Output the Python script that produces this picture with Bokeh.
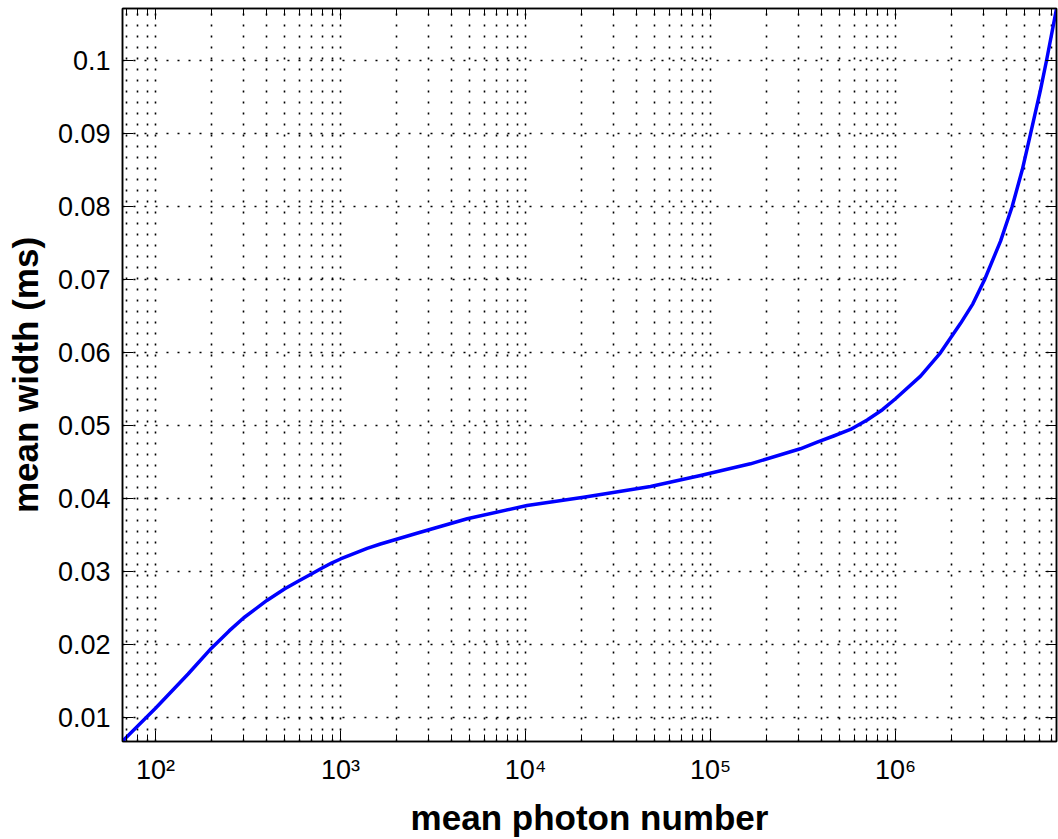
from bokeh.plotting import figure
from bokeh.models import Range1d, LogAxis, LinearAxis, FixedTicker, CustomJSTickFormatter
from bokeh.embed import file_html
from bokeh.resources import INLINE

# ---- data ----
photon_number = [66.3, 100, 150, 200, 250, 300, 400, 500, 600, 700, 800, 900, 1000,
                 1393, 1644, 2700, 4840, 10200, 20600, 47400, 88300, 164500, 306000,
                 377500, 463000, 571000, 703000, 850000, 1.0e6, 1.366e6, 1.75e6, 2.244e6,
                 2.62e6, 3.03e6, 3.698e6, 4.27e6, 4.85e6, 5.37e6, 6.08e6, 6.55e6, 7.42e6]
mean_width_ms = [0.0068, 0.0113, 0.0160, 0.0195, 0.0219, 0.0237, 0.02607, 0.02767,
                 0.02881, 0.02973, 0.03055, 0.03123, 0.03175, 0.0332, 0.0338, 0.03542,
                 0.03726, 0.03908, 0.04022, 0.04168, 0.04319, 0.04479, 0.04685, 0.04775,
                 0.0486, 0.0495, 0.0508, 0.0522, 0.0537, 0.0568, 0.0600, 0.0640, 0.0667,
                 0.0700, 0.0753, 0.0800, 0.0851, 0.0900, 0.0960, 0.1000, 0.1071]

x_major_ticks = [1e2, 1e3, 1e4, 1e5, 1e6]
x_tick_labels = ["10\u00b2", "10\u00b3", "10\u2074", "10\u2075", "10\u2076"]
x_minor_ticks = [k * 10 ** d for d in range(1, 7) for k in range(2, 10)]
y_major_ticks = [0.01, 0.02, 0.03, 0.04, 0.05, 0.06, 0.07, 0.08, 0.09, 0.1]
y_tick_labels = ["0.01", "0.02", "0.03", "0.04", "0.05", "0.06", "0.07", "0.08", "0.09", "0.1"]

x_label = "mean photon number"
y_label = "mean width (ms)"

FONT = "Liberation Sans"

lookup_code = """
let best = 0, bd = Infinity;
for (let i = 0; i < vals.length; i++) {
  const d = Math.abs(Math.log(vals[i]) - Math.log(tick));
  if (d < bd) { bd = d; best = i; }
}
return labs[best];
"""

p = figure(width=1058, height=839, x_axis_type="log",
           x_range=Range1d(66.3, 7.42e6), y_range=Range1d(0.00675, 0.10716),
           output_backend="svg", toolbar_location=None,
           min_border_left=122, min_border_right=2, min_border_top=8, min_border_bottom=98,
           background_fill_color="white", border_fill_color="white")

xticker = FixedTicker(ticks=x_major_ticks, minor_ticks=x_minor_ticks)
yticker = FixedTicker(ticks=y_major_ticks, minor_ticks=[])

p.xaxis.ticker = xticker
p.yaxis.ticker = yticker
p.xgrid.ticker = xticker
p.ygrid.ticker = yticker

p.xaxis.formatter = CustomJSTickFormatter(args=dict(vals=x_major_ticks, labs=x_tick_labels), code=lookup_code)
p.yaxis.formatter = CustomJSTickFormatter(args=dict(vals=y_major_ticks, labs=y_tick_labels), code=lookup_code)

for ax in (p.xaxis[0], p.yaxis[0]):
    ax.axis_line_color = "black"
    ax.axis_line_width = 1.5
    ax.major_tick_in = 11
    ax.major_tick_out = 0
    ax.minor_tick_in = 7
    ax.minor_tick_out = 0
    ax.major_tick_line_color = "black"
    ax.minor_tick_line_color = "black"
    ax.major_label_text_font = FONT
    ax.major_label_text_font_size = "27px"
    ax.major_label_text_color = "black"
    ax.axis_label_text_font = FONT
    ax.axis_label_text_font_size = "35px"
    ax.axis_label_text_font_style = "bold"
    ax.axis_label_text_color = "black"

p.xaxis.axis_label = x_label
p.yaxis.axis_label = y_label
p.xaxis.major_label_standoff = 13
p.xaxis.axis_label_standoff = 10
p.yaxis.major_label_standoff = 12
p.yaxis.axis_label_standoff = 10
p.yaxis.minor_tick_in = 0

# mirrored tick axes (top / right), no labels
empty = CustomJSTickFormatter(code="return '';")
top = LogAxis(ticker=xticker, formatter=empty, major_tick_in=11, major_tick_out=0,
              minor_tick_in=7, minor_tick_out=0, major_label_standoff=0,
              major_label_text_font_size="0px", axis_line_color="black", axis_line_width=1.5)
right = LinearAxis(ticker=yticker, formatter=empty, major_tick_in=11, major_tick_out=0,
                   minor_tick_in=0, minor_tick_out=0, major_label_standoff=0,
                   major_label_text_font_size="0px", axis_line_color="black", axis_line_width=1.5)
p.add_layout(top, "above")
p.add_layout(right, "right")

DOT = "2 9"
for g in (p.xgrid[0], p.ygrid[0]):
    g.grid_line_color = "black"
    g.grid_line_dash = DOT
    g.grid_line_width = 1.6
    g.grid_line_alpha = 1.0
p.xgrid.minor_grid_line_color = "black"
p.xgrid.minor_grid_line_dash = DOT
p.xgrid.minor_grid_line_width = 1.6
p.ygrid.minor_grid_line_color = None

p.outline_line_color = "black"
p.outline_line_width = 1.5

p.line(photon_number, mean_width_ms, line_color="#0000ff", line_width=3.5,
       line_join="round")

open("out.html", "w").write(file_html(p, INLINE))
